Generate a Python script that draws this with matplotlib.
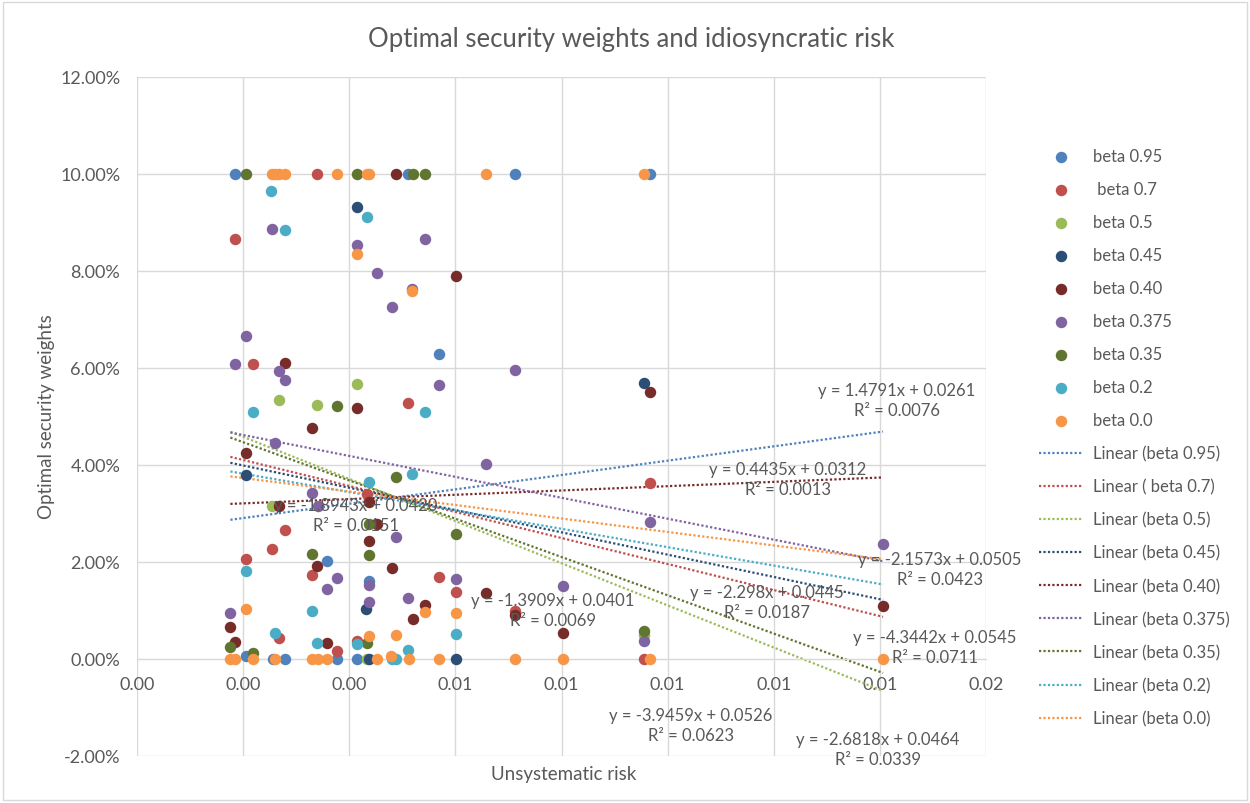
import numpy as np
import matplotlib
matplotlib.use('Agg')
import matplotlib.pyplot as plt
from matplotlib.ticker import PercentFormatter, MultipleLocator, FormatStrFormatter
from matplotlib.patches import Rectangle

plt.rcParams['font.family'] = ['Lato', 'DejaVu Sans']
plt.rcParams['axes.unicode_minus'] = False

# unsystematic risk (x) and optimal weights in % (y), per series
x_b95 = [0.00184, 0.00205, 0.00256, 0.00279, 0.00359, 0.00376, 0.00415, 0.00437,
         0.00510, 0.00570, 0.00712, 0.00966]
w_b95 = [10.0, 0.06, 0.0, 0.0, 2.02, 0.0, 0.0, 1.61, 10.0, 6.29, 10.0, 10.0]

x_b70 = [0.00184, 0.00218, 0.00205, 0.00254, 0.00279, 0.00267, 0.00340, 0.00329,
         0.00376, 0.00415, 0.00434, 0.00511, 0.00570, 0.00602, 0.00712, 0.00966, 0.00956]
w_b70 = [8.65, 6.08, 2.06, 2.27, 2.67, 0.43, 10.0, 1.74, 0.16, 0.38, 3.41, 5.28,
         1.70, 1.38, 0.98, 3.62, 0.0]

x_b50 = [0.00267, 0.00255, 0.00340, 0.00415, 0.00433, 0.00956]
w_b50 = [5.33, 3.15, 5.23, 5.68, 0.0, 0.50]

x_b45 = [0.00205, 0.00415, 0.00432, 0.00437, 0.00602, 0.00956]
w_b45 = [3.80, 9.31, 1.04, 0.0, 0.0, 5.69]

x_b40 = [0.00279, 0.00205, 0.00267, 0.00176, 0.00184, 0.00489, 0.00415, 0.00329,
         0.00437, 0.00437, 0.00453, 0.00340, 0.00480, 0.00359, 0.00520, 0.00542,
         0.00602, 0.00657, 0.00712, 0.00802, 0.00966, 0.01406]
w_b40 = [6.10, 4.25, 3.15, 0.67, 0.35, 10.0, 5.18, 4.77, 3.24, 2.43, 2.79, 1.92,
         1.88, 0.32, 0.82, 1.12, 7.90, 1.37, 0.90, 0.53, 5.51, 1.09]

x_b375 = [0.00254, 0.00205, 0.00184, 0.00267, 0.00279, 0.00260, 0.00176, 0.00415,
          0.00452, 0.00480, 0.00519, 0.00542, 0.00329, 0.00342, 0.00489, 0.00376,
          0.00359, 0.00437, 0.00437, 0.00511, 0.00570, 0.00712, 0.00657, 0.00602,
          0.00802, 0.00966, 0.00956, 0.01406]
w_b375 = [8.87, 6.67, 6.08, 5.93, 5.76, 4.45, 0.95, 8.54, 7.96, 7.25, 7.63, 8.65,
          3.42, 3.15, 2.52, 1.66, 1.45, 1.52, 1.17, 1.26, 5.64, 5.95, 4.03, 1.64,
          1.51, 2.82, 0.38, 2.37]

x_b35 = [0.00205, 0.00415, 0.00520, 0.00542, 0.00376, 0.00176, 0.00218, 0.00489,
         0.00437, 0.00437, 0.00329, 0.00433, 0.00602, 0.00956]
w_b35 = [10.0, 10.0, 10.0, 10.0, 5.21, 0.24, 0.12, 3.76, 2.79, 2.15, 2.17, 0.33,
         2.58, 0.57]

x_b20 = [0.00253, 0.00279, 0.00218, 0.00205, 0.00260, 0.00433, 0.00437, 0.00519,
         0.00542, 0.00329, 0.00340, 0.00415, 0.00511, 0.00602, 0.00480, 0.00489]
w_b20 = [9.64, 8.85, 5.10, 1.81, 0.54, 9.11, 3.65, 3.82, 5.09, 1.00, 0.32, 0.30,
         0.19, 0.52, 0.0, 0.0]

x_b00 = [0.00254, 0.00260, 0.00267, 0.00279, 0.00376, 0.00433, 0.00437, 0.00657,
         0.00956, 0.00415, 0.00519, 0.00205, 0.00437, 0.00489, 0.00478, 0.00542,
         0.00602, 0.00176, 0.00184, 0.00218, 0.00260, 0.00329, 0.00342, 0.00359,
         0.00453, 0.00512, 0.00570, 0.00712, 0.00802, 0.00966, 0.01406]
w_b00 = [10.0, 10.0, 10.0, 10.0, 10.0, 10.0, 10.0, 10.0, 10.0, 8.36, 7.58, 1.04,
         0.47, 0.49, 0.07, 0.97, 0.95, 0.0, 0.0, 0.0, 0.0, 0.0, 0.0, 0.0, 0.0,
         0.0, 0.0, 0.0, 0.0, 0.0, 0.0]

names = ['beta 0.95', ' beta 0.7', 'beta 0.5', 'beta 0.45', 'beta 0.40',
         'beta 0.375', 'beta 0.35', 'beta 0.2', 'beta 0.0']
colors = ['#4F81BD', '#C0504D', '#9BBB59', '#2C4D75', '#772C2A',
          '#8064A2', '#5F7530', '#4BACC6', '#F79646']
xs_all = [x_b95, x_b70, x_b50, x_b45, x_b40, x_b375, x_b35, x_b20, x_b00]
ws_all = [w_b95, w_b70, w_b50, w_b45, w_b40, w_b375, w_b35, w_b20, w_b00]

# linear trendlines as shown in the chart
slopes = [1.4791, -2.6818, -4.3442, -2.298, 0.4435, -2.1573, -3.9459, -1.8943, -1.3909]
intercepts = [0.0261, 0.0464, 0.0545, 0.0445, 0.0312, 0.0505, 0.0526, 0.0420, 0.0401]
r2 = ['0.0076', '0.0339', '0.0711', '0.0187', '0.0013', '0.0423', '0.0623', '0.0151', '0.0069']
# label centre positions in pixels (x, y of first line)
label_pos = [(897, 390), (878, 739), (935, 637), (767, 592), (788, 469),
             (940, 559), (691, 715), (356, 505), (553, 600)]

W, H = 1250, 804
fig = plt.figure(figsize=(W / 100, H / 100), dpi=100)
ax = fig.add_axes([137 / W, 1 - 757 / H, (986 - 137) / W, (757 - 78) / H])

x_lo = min(min(x) for x in xs_all)
x_hi = max(max(x) for x in xs_all)
tx = np.array([x_lo, x_hi])

line_handles = []
for name, c, m, b in zip(names, colors, slopes, intercepts):
    ln, = ax.plot(tx, m * tx + b, color=c, lw=1.6, linestyle=(0, (1, 1)), zorder=2,
                  label='Linear (' + name + ')')
    line_handles.append(ln)

dot_handles = []
for name, c, x, w in zip(names, colors, xs_all, ws_all):
    sc = ax.scatter(x, np.array(w) / 100, s=68, color=c, linewidths=0, zorder=3, label=name)
    dot_handles.append(sc)

for m, b, r, (px, py) in zip(slopes, intercepts, r2, label_pos):
    txt = 'y = %gx + %.4f\nR² = %s' % (m, b, r)
    ax.text(px / W, 1 - (py + 11) / H, txt, transform=fig.transFigure, ha='center', va='center',
            fontsize=12, color='#595959', linespacing=1.35, zorder=5)

ax.set_xlim(0, 0.016)
ax.set_ylim(-0.02, 0.12)
ax.xaxis.set_major_locator(MultipleLocator(0.002))
ax.xaxis.set_major_formatter(FormatStrFormatter('%.2f'))
ax.yaxis.set_major_locator(MultipleLocator(0.02))
ax.yaxis.set_major_formatter(PercentFormatter(xmax=1, decimals=2))
ax.grid(True, color='#d9d9d9', lw=1)
ax.set_axisbelow(True)
for s in ['top', 'right', 'left']:
    ax.spines[s].set_visible(False)
ax.spines['bottom'].set_position(('data', 0))
ax.spines['bottom'].set_color('#d9d9d9')
ax.tick_params(axis='both', length=0, labelsize=13, labelcolor='#595959')
ax.tick_params(axis='y', pad=12)
ax.tick_params(axis='x', pad=12)

fig.text(631 / W, 1 - 40 / H, 'Optimal security weights and idiosyncratic risk',
         ha='center', va='center', fontsize=18.5, color='#595959')
fig.text(564 / W, 1 - 775 / H, 'Unsystematic risk', ha='center', va='center',
         fontsize=13.5, color='#595959')
fig.text(47 / W, 1 - 417 / H, 'Optimal security weights', ha='center', va='center',
         rotation=90, fontsize=13.5, color='#595959')

fig.legend(handles=dot_handles + line_handles, loc='upper left',
           bbox_to_anchor=(1031 / W, 1 - 141 / H), frameon=False, fontsize=12,
           labelcolor='#595959', labelspacing=1.02, handlelength=2.6,
           handletextpad=0.6, borderpad=0, scatterpoints=1)

fig.patches.append(Rectangle((3 / W, 3 / H), 1 - 6 / W, 1 - 6 / H, transform=fig.transFigure,
                             fill=False, ec='#d9d9d9', lw=1))

fig.savefig('out.png', dpi=100)
